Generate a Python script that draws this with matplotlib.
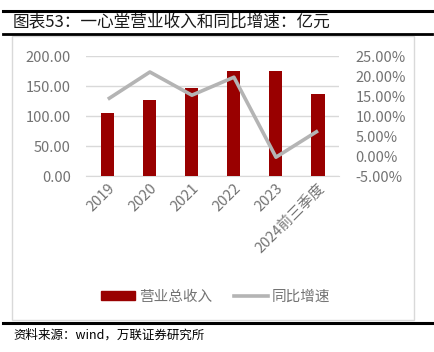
import numpy as np
import matplotlib
matplotlib.use("Agg")
import matplotlib.pyplot as plt
from matplotlib.patches import Rectangle
from matplotlib.lines import Line2D

plt.rcParams['font.family'] = ['Noto Sans CJK SC', 'DejaVu Sans']

# data
years = ["2019", "2020", "2021", "2022", "2023", "2024前三季度"]
revenue = [105.5, 126.7, 146.0, 174.5, 175.0, 136.0]      # 亿元
growth = [14.2, 21.0, 15.2, 19.7, -0.3, 6.3]              # %
left_ticks = [0, 50, 100, 150, 200]
right_ticks = [-5, 0, 5, 10, 15, 20, 25]

bar_color = "#990000"
line_color = "#b4b4b4"
tick_color = "#737373"

W, H = 435, 352
fig = plt.figure(figsize=(W / 100, H / 100), dpi=100)

def fx(px):
    return px / W

def fy(py):
    return 1 - py / H

# header / footer rules and chart frame
for y, lw in [(11, 2.2), (34, 2.0), (323, 2.2)]:
    fig.add_artist(Line2D([fx(3), fx(432)], [fy(y), fy(y)], color="black", lw=lw))
fig.add_artist(Rectangle((fx(12), fy(320)), fx(414) - fx(12), fy(36) - fy(320),
                         fill=False, edgecolor="#d9d9d9", lw=1.0))

fig.text(fx(13), fy(22), "图表53：一心堂营业收入和同比增速：亿元", fontsize=12,
         va="center", ha="left", color="#1a1a1a")
fig.text(fx(13), fy(335), "资料来源：wind，万联证券研究所", fontsize=9,
         va="center", ha="left", style="italic", color="black")

ax = fig.add_axes([fx(86), fy(176), fx(339) - fx(86), fy(56) - fy(176)])
x = np.arange(len(years))
ax.bar(x, revenue, width=0.31, color=bar_color, zorder=3)
ax.set_xlim(-0.52, 5.5)
ax.set_ylim(0, 200)
ax.set_yticks(left_ticks)
ax.set_yticklabels([f"{v:.2f}" for v in left_ticks])
ax.grid(axis="y", color="#d9d9d9", lw=1.0, zorder=0)
for s in ["top", "right", "left"]:
    ax.spines[s].set_visible(False)
ax.spines["bottom"].set_color("#d9d9d9")
ax.tick_params(axis="y", length=0, pad=11, labelsize=10.5, labelcolor=tick_color)
ax.tick_params(axis="x", length=0, pad=4, labelsize=10.5, labelcolor=tick_color)
ax.set_xticks(x)
ax.set_xticklabels(years, rotation=45, ha="right", rotation_mode="anchor")

ax2 = ax.twinx()
ax2.plot(x, growth, color=line_color, lw=2.6, zorder=4, solid_capstyle="butt")
ax2.set_ylim(-5, 25)
ax2.set_yticks(right_ticks)
ax2.set_yticklabels([f"{v:.2f}%" for v in right_ticks])
for s in ax2.spines.values():
    s.set_visible(False)
ax2.tick_params(axis="y", length=0, pad=12, labelsize=10.5, labelcolor=tick_color)

handles = [Rectangle((0, 0), 1, 1, color=bar_color),
           Line2D([0], [0], color=line_color, lw=2.6)]
fig.legend(handles, ["营业总收入", "同比增速"], loc="center", bbox_to_anchor=(fx(216), fy(297)),
           ncol=2, frameon=False, fontsize=10.5, labelcolor=tick_color,
           handlelength=2.3, handleheight=0.6, handletextpad=0.3, columnspacing=1.5)

fig.savefig("out.png", dpi=100)
